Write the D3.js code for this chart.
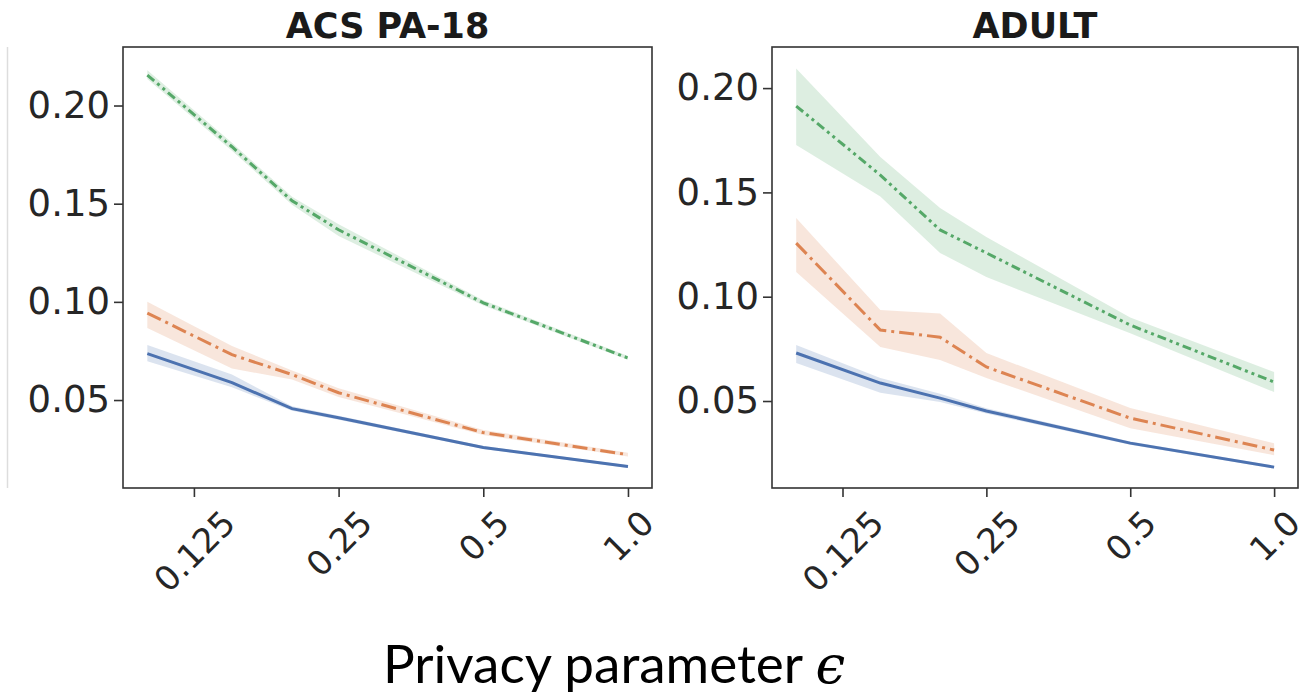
<!DOCTYPE html>
<html>
<head>
<meta charset="utf-8">
<script src="https://cdn.jsdelivr.net/npm/d3@7"></script>
<style>
	body { margin: 0; background: #fff; }
	svg { display: block; }
</style>
</head>
<body>
<div class="privacyChart"></div>
<script>
var epsilons = [0.1, 0.15, 0.2, 0.25, 0.5, 1.0];
var xTickValues = [0.125, 0.25, 0.5, 1.0];
var xTickLabels = ["0.125", "0.25", "0.5", "1.0"];
var yTickValues = [0.05, 0.10, 0.15, 0.20];
var yTickLabels = ["0.05", "0.10", "0.15", "0.20"];
var panelTitles = ["ACS PA-18", "ADULT"];
var xAxisTitle = "Privacy parameter ";

// ACS PA-18
var acsSolid = [0.0736, 0.0589, 0.0456, 0.0410, 0.0258, 0.0161];
var acsSolidLo = [0.0697, 0.0565, 0.0445, 0.0400, 0.0250, 0.0154];
var acsSolidHi = [0.0780, 0.0630, 0.0468, 0.0420, 0.0266, 0.0168];
var acsDashDot = [0.0943, 0.0731, 0.0630, 0.0537, 0.0334, 0.0222];
var acsDashDotLo = [0.0867, 0.0660, 0.0605, 0.0515, 0.0322, 0.0212];
var acsDashDotHi = [0.1000, 0.0775, 0.0650, 0.0560, 0.0348, 0.0232];
var acsDotted = [0.2155, 0.1790, 0.1515, 0.1367, 0.0995, 0.0714];
var acsDottedLo = [0.2135, 0.1770, 0.1495, 0.1335, 0.0982, 0.0705];
var acsDottedHi = [0.2180, 0.1810, 0.1535, 0.1395, 0.1008, 0.0724];

// ADULT
var adultSolid = [0.0730, 0.0586, 0.0514, 0.0452, 0.0298, 0.0183];
var adultSolidLo = [0.0682, 0.0540, 0.0495, 0.0440, 0.0290, 0.0176];
var adultSolidHi = [0.0768, 0.0610, 0.0535, 0.0465, 0.0306, 0.0190];
var adultDashDot = [0.1257, 0.0840, 0.0806, 0.0663, 0.0418, 0.0265];
var adultDashDotLo = [0.1118, 0.0759, 0.0696, 0.0610, 0.0370, 0.0240];
var adultDashDotHi = [0.1377, 0.0936, 0.0920, 0.0730, 0.0466, 0.0298];
var adultDotted = [0.1914, 0.1583, 0.1320, 0.1210, 0.0864, 0.0591];
var adultDottedLo = [0.1727, 0.1480, 0.1210, 0.1094, 0.0825, 0.0543];
var adultDottedHi = [0.2094, 0.1670, 0.1425, 0.1286, 0.0900, 0.0639];

var lineStyles = [
	{color: "#4c72b0", dash: null},
	{color: "#dd8452", dash: "15,5,3,5"},
	{color: "#55a868", dash: "9,4,3,4,3,4"}
];

var panels = [
	{title: panelTitles[0], left: 123, right: 652, yDomain: [0.0052, 0.2298], series: [
		{mean: acsSolid, lo: acsSolidLo, hi: acsSolidHi},
		{mean: acsDashDot, lo: acsDashDotLo, hi: acsDashDotHi},
		{mean: acsDotted, lo: acsDottedLo, hi: acsDottedHi}
	]},
	{title: panelTitles[1], left: 772, right: 1298, yDomain: [0.0083, 0.2197], series: [
		{mean: adultSolid, lo: adultSolidLo, hi: adultSolidHi},
		{mean: adultDashDot, lo: adultDashDotLo, hi: adultDashDotHi},
		{mean: adultDotted, lo: adultDottedLo, hi: adultDottedHi}
	]}
];

var width = 1302, height = 696;
var plotTop = 47, plotBottom = 488;
var axisColor = "#333";
var xTickFont = 34;

var svg = d3.select(".privacyChart").append("svg")
	.attr("width", width)
	.attr("height", height);

// faint line left over on the far left of the figure
svg.append("line")
	.attr("x1", 7.5).attr("x2", 7.5)
	.attr("y1", 47).attr("y2", 488)
	.attr("stroke", "#ddd")
	.attr("stroke-width", 1.5);

panels.forEach(drawPanel);

function drawPanel(panel) {
	var x = d3.scaleLog().base(2).domain([0.089, 1.122]).range([panel.left, panel.right]);
	var y = d3.scaleLinear().domain(panel.yDomain).range([plotBottom, plotTop]);
	var g = svg.append("g");

	var area = d3.area()
		.x(function(d) { return x(d.eps); })
		.y0(function(d) { return y(d.lo); })
		.y1(function(d) { return y(d.hi); });
	var line = d3.line()
		.x(function(d) { return x(d.eps); })
		.y(function(d) { return y(d.mean); });

	//band first, then the mean line on top
	panel.series.forEach(function(s, k) {
		var rows = epsilons.map(function(e, i) {
			return {eps: e, mean: s.mean[i], lo: s.lo[i], hi: s.hi[i]};
		});
		g.append("path")
			.attr("d", area(rows))
			.attr("fill", lineStyles[k].color)
			.attr("fill-opacity", 0.2);
		g.append("path")
			.attr("d", line(rows))
			.attr("fill", "none")
			.attr("stroke", lineStyles[k].color)
			.attr("stroke-width", 3)
			.attr("stroke-dasharray", lineStyles[k].dash);
	});

	// frame
	g.append("rect")
		.attr("x", panel.left).attr("y", plotTop)
		.attr("width", panel.right - panel.left)
		.attr("height", plotBottom - plotTop)
		.attr("fill", "none")
		.attr("stroke", axisColor)
		.attr("stroke-width", 1.6);

	var yAxis = g.append("g")
		.attr("transform", "translate(" + panel.left + ",0)")
		.call(d3.axisLeft(y).tickValues(yTickValues)
			.tickFormat(function(d, i) { return yTickLabels[i]; })
			.tickSize(9).tickPadding(4));
	yAxis.select(".domain").remove();
	yAxis.selectAll("line").attr("stroke", axisColor).attr("stroke-width", 1.6);
	yAxis.selectAll("text")
		.attr("fill", "#262626")
		.style("font-family", "DejaVu Sans")
		.style("font-size", "37px");

	var xAxis = g.append("g")
		.attr("transform", "translate(0," + plotBottom + ")")
		.call(d3.axisBottom(x).tickValues(xTickValues)
			.tickFormat(function(d, i) { return xTickLabels[i]; })
			.tickSize(9));
	xAxis.select(".domain").remove();
	xAxis.selectAll("line").attr("stroke", axisColor).attr("stroke-width", 1.6);

	//rotated labels, centered under each tick
	xAxis.selectAll("text")
		.attr("fill", "#262626")
		.style("font-family", "DejaVu Sans")
		.style("font-size", xTickFont + "px")
		.attr("text-anchor", "middle")
		.attr("dominant-baseline", "central")
		.attr("dy", null)
		.attr("y", 0)
		.each(function() {
			var len = this.getComputedTextLength();
			var cy = 20 + (len + 0.73 * xTickFont) * 0.3536;
			d3.select(this).attr("transform", "translate(0," + cy + ") rotate(-45)");
		});

	g.append("text")
		.attr("x", (panel.left + panel.right) / 2)
		.attr("y", 38)
		.attr("text-anchor", "middle")
		.attr("fill", "#1a1a1a")
		.style("font-family", "DejaVu Sans")
		.style("font-weight", "bold")
		.style("font-size", "35px")
		.text(panel.title);
}

var label = svg.append("text")
	.attr("x", 383)
	.attr("y", 683)
	.attr("fill", "#000")
	.style("font-family", "Lato")
	.style("font-size", "53px")
	.text(xAxisTitle);
label.append("tspan")
	.style("font-family", "DejaVu Serif")
	.style("font-style", "italic")
	.text("\u03f5");
</script>
</body>
</html>
